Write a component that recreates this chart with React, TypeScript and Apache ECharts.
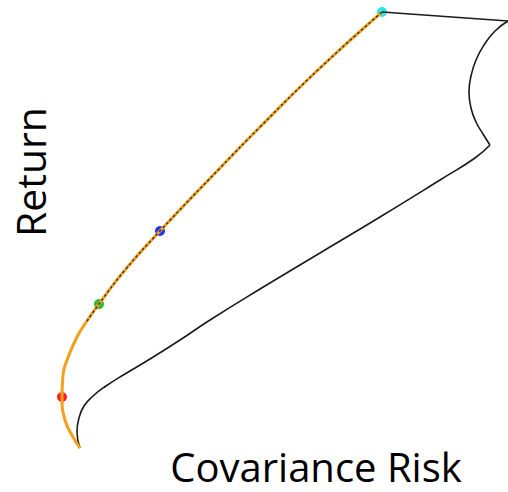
import React, { useEffect, useRef } from "react";
import * as echarts from "echarts";

// Efficient frontier (risk, return) in chart units
const frontierRisk = [80, 73, 65, 62, 63, 67, 77, 87, 99, 125, 160, 220, 260, 320, 382];
const frontierReturn = [44, 55, 72, 95, 117, 132, 155, 171, 188, 222, 261, 324, 365, 424, 480];

// dashed overlay portion of the frontier (starts at index 7)
const overlayStart = 7;

// Lower boundary of the feasible set
const lowerRisk = [80, 77, 79, 84, 93, 106, 125, 150, 180, 210, 260, 320, 380, 440, 475, 490];
const lowerReturn = [44, 60, 74, 86, 96, 106, 118, 133, 152, 172, 203, 239, 275, 312, 334, 347];

// Right concave boundary
const rightRisk = [490, 483, 476, 471, 469, 471, 476, 484, 495, 508];
const rightReturn = [347, 358, 370, 384, 400, 416, 432, 447, 461, 471];

// Top boundary (straight)
const topRisk = [382, 508];
const topReturn = [480, 471];

// Highlighted portfolios
const pointNames = ["red", "green", "blue", "cyan"];
const pointRisk = [62, 99, 160, 382];
const pointReturn = [95, 188, 261, 480];
const pointColors = ["#ff1f1f", "#22c02a", "#2233ff", "#22eaea"];

const xLabel = "Covariance Risk";
const yLabel = "Return";

function zip(a: number[], b: number[]) {
  return a.map((v, i) => [v, b[i]]);
}

export default function App() {
  const ref = useRef<HTMLDivElement>(null);
  useEffect(() => {
    if (!ref.current) return;
    const chart = echarts.init(ref.current, null, { renderer: "svg" });
    const frontier = zip(frontierRisk, frontierReturn);
    chart.setOption({
      animation: false,
      backgroundColor: "#ffffff",
      grid: { left: 0, right: 0, top: 0, bottom: 0 },
      xAxis: { type: "value", min: 0, max: 508, show: false },
      yAxis: { type: "value", min: 0, max: 492, show: false },
      series: [
        {
          type: "line",
          data: zip(lowerRisk, lowerReturn),
          smooth: 0.5,
          symbol: "none",
          lineStyle: { color: "#1a1a1a", width: 1.6 },
        },
        {
          type: "line",
          data: zip(rightRisk, rightReturn),
          smooth: 0.5,
          symbol: "none",
          lineStyle: { color: "#1a1a1a", width: 1.6 },
        },
        {
          type: "line",
          data: zip(topRisk, topReturn),
          symbol: "none",
          lineStyle: { color: "#1a1a1a", width: 1.6 },
        },
        {
          type: "line",
          data: frontier,
          smooth: 0.5,
          symbol: "none",
          lineStyle: { color: "#f2a01e", width: 3 },
        },
        {
          type: "line",
          data: frontier.slice(overlayStart),
          smooth: 0.5,
          symbol: "none",
          lineStyle: { color: "#333333", width: 1.4, type: [2.5, 2.5] },
        },
        {
          type: "scatter",
          data: pointRisk.map((r, i) => ({
            name: pointNames[i],
            value: [r, pointReturn[i]],
            itemStyle: { color: pointColors[i], opacity: 1 },
          })),
          symbolSize: 10,
        },
      ],
      graphic: [
        {
          type: "text",
          x: 30,
          y: 172,
          rotation: Math.PI / 2,
          style: {
            text: yLabel,
            fontFamily: "Open Sans",
            fontSize: 41,
            lineHeight: 41,
            fill: "#000",
            align: "center",
            verticalAlign: "middle",
          },
        },
        {
          type: "text",
          x: 316,
          y: 466,
          style: {
            text: xLabel,
            fontFamily: "Open Sans",
            fontSize: 40,
            lineHeight: 40,
            fill: "#000",
            align: "center",
            verticalAlign: "middle",
          },
        },
      ],
    });
    return () => chart.dispose();
  }, []);
  return (
    <div
      ref={ref}
      style={{ position: "fixed", left: 0, top: 0, width: 508, height: 492 }}
    />
  );
}
